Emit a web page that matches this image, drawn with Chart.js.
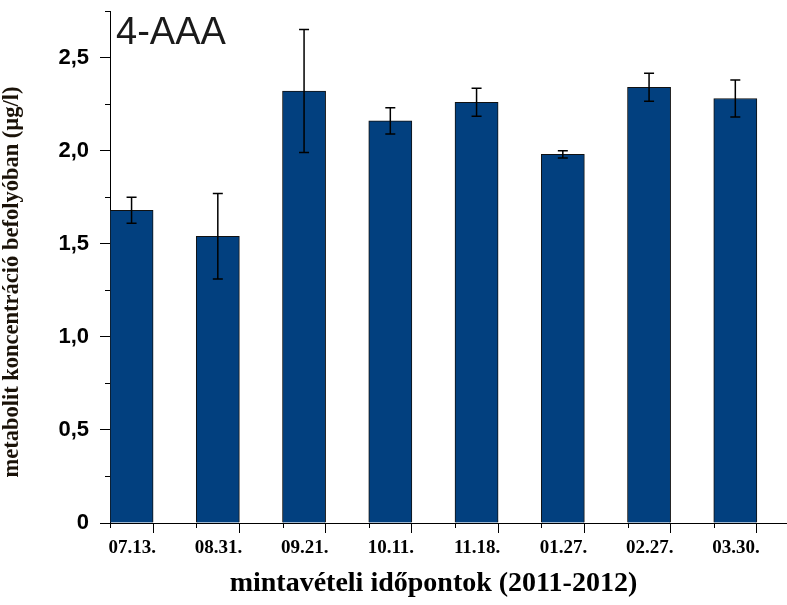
<!DOCTYPE html>
<html>
<head>
<meta charset="utf-8">
<script src="https://cdn.jsdelivr.net/npm/chart.js@4"></script>
<style>
  html, body { margin:0; padding:0; background:#fff; overflow:hidden; }
  #wrap { position:relative; width:805px; height:605px; }
</style>
</head>
<body>
<div id="wrap"><canvas id="c"></canvas></div>
<script>
// adatok (leolvasva az ábráról)
const dates   = ['07.13.','08.31.','09.21.','10.11.','11.18.','01.27.','02.27.','03.30.'];
const means   = [1.68, 1.54, 2.32, 2.16, 2.26, 1.98, 2.34, 2.28];
const errors  = [0.07, 0.23, 0.33, 0.07, 0.075, 0.02, 0.075, 0.10];
const ghost   = [null, null, null, null, null, null, null, null]; // üres második sorozat (Excel-elrendezés)
const yMajor  = [0, 0.5, 1.0, 1.5, 2.0, 2.5];
const yMinor  = [0.25, 0.75, 1.25, 1.75, 2.25, 2.75];
const panelLabel = '4-AAA';
const yTitle  = 'metabolit koncentráció befolyóban (µg/l)';
const xTitle  = 'mintavételi időpontok (2011-2012)';

const fmt = v => v === 0 ? '0' : v.toFixed(1).replace('.', ',');

// kis osztások, hibasávok, feliratok
const extras = {
  id: 'extras',
  afterDraw(chart){
    const ctx = chart.ctx, x = chart.scales.x, y = chart.scales.y;
    ctx.save();
    ctx.strokeStyle = '#000';
    ctx.lineWidth = 1;
    // y kis osztások
    yMinor.forEach(v => {
      const py = Math.round(y.getPixelForValue(v)) + 0.5;
      ctx.beginPath(); ctx.moveTo(y.right - 5, py); ctx.lineTo(y.right, py); ctx.stroke();
    });
    // x kategóriahatárok
    const half = (x.getPixelForValue(1) - x.getPixelForValue(0)) / 2;
    for (let i = 0; i <= dates.length; i++) {
      const px = Math.round(x.getPixelForValue(i) - half) + 0.5;
      ctx.beginPath(); ctx.moveTo(px, x.top); ctx.lineTo(px, x.top + 5); ctx.stroke();
    }
    // hibasávok
    ctx.lineWidth = 1.5;
    chart.getDatasetMeta(0).data.forEach((bar, i) => {
      const cx = bar.x;
      const t = y.getPixelForValue(means[i] + errors[i]);
      const b = y.getPixelForValue(means[i] - errors[i]);
      ctx.beginPath();
      ctx.moveTo(cx, t); ctx.lineTo(cx, b);
      ctx.moveTo(cx - 5, t); ctx.lineTo(cx + 5, t);
      ctx.moveTo(cx - 5, b); ctx.lineTo(cx + 5, b);
      ctx.stroke();
    });
    // panel felirat
    ctx.fillStyle = '#1a1a1a';
    ctx.font = '38px "Liberation Sans", Arial, sans-serif';
    ctx.textAlign = 'left';
    ctx.textBaseline = 'alphabetic';
    ctx.fillText(panelLabel, chart.chartArea.left + 6, 44);
    // x tengelycím
    ctx.fillStyle = '#000';
    ctx.font = 'bold 28px "Liberation Serif", "Times New Roman", serif';
    ctx.textAlign = 'center';
    const mid = (x.left + x.getPixelForValue(dates.length - 1)) / 2;
    ctx.fillText(xTitle, mid, 591);
    // y tengelycím
    ctx.fillStyle = '#1a1208';
    ctx.font = 'bold 22.5px "Liberation Serif", "Times New Roman", serif';
    ctx.translate(18, (y.top + y.bottom) / 2 + 15);
    ctx.rotate(-Math.PI / 2);
    ctx.fillText(yTitle, 0, 0);
    ctx.restore();
  }
};

new Chart(document.getElementById('c'), {
  type: 'bar',
  data: {
    labels: dates,
    datasets: [
      { data: means, backgroundColor: '#02407f', borderColor: '#111', borderWidth: 1,
        categoryPercentage: 1, barPercentage: 1 },
      { data: ghost, backgroundColor: 'rgba(0,0,0,0)', categoryPercentage: 1, barPercentage: 1 }
    ]
  },
  options: {
    responsive: true,
    maintainAspectRatio: false,
    animation: false,
    layout: { padding: { top: 11, right: 5, left: 0, bottom: 0 } },
    plugins: { legend: { display: false }, tooltip: { enabled: false } },
    scales: {
      x: {
        offset: true,
        grid: { offset: false, drawOnChartArea: false, tickLength: 10, color: '#000' },
        border: { display: true, color: '#000', width: 1 },
        ticks: {
          color: '#000', maxRotation: 0, autoSkip: false, padding: 4, labelOffset: -21,
          font: { family: '"Liberation Serif", "Times New Roman", serif', size: 19, weight: 'bold' }
        },
        afterFit(s){ s.height = 82; s.paddingLeft = 0; s.paddingRight = 0; }
      },
      y: {
        min: 0, max: 2.75,
        afterBuildTicks(s){ s.ticks = yMajor.map(v => ({ value: v })); },
        grid: { drawOnChartArea: false, tickLength: 10, color: '#000' },
        border: { display: true, color: '#000', width: 1 },
        ticks: {
          color: '#000', padding: 11, callback: v => fmt(v),
          font: { family: '"Liberation Sans", Arial, sans-serif', size: 22, weight: 'bold' }
        },
        afterFit(s){ s.width = 110; s.paddingTop = 0; s.paddingBottom = 0; }
      }
    }
  },
  plugins: [extras]
});
</script>
</body>
</html>
